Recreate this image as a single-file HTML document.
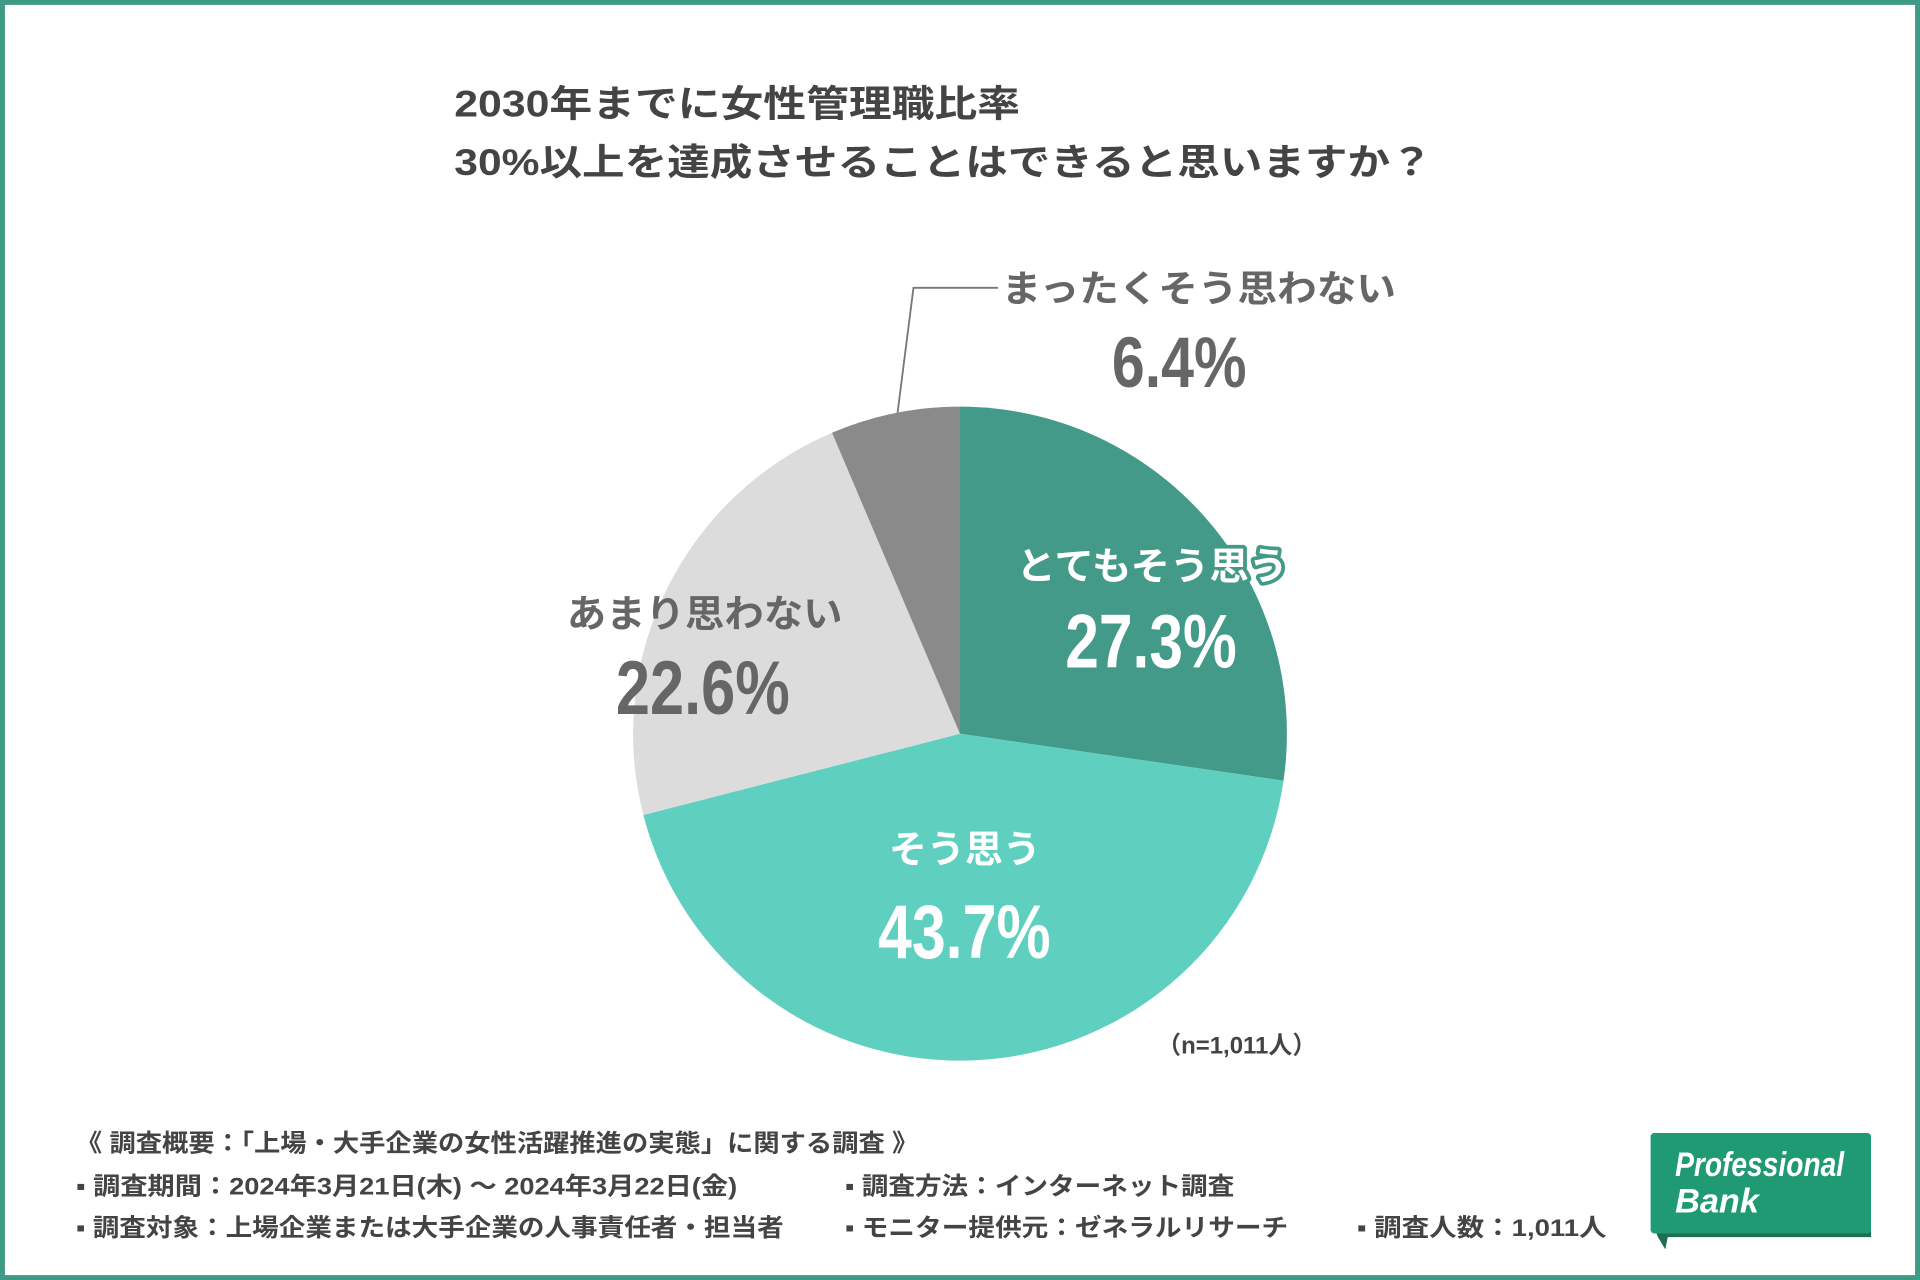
<!DOCTYPE html>
<html><head><meta charset="utf-8"><style>
html,body{margin:0;padding:0;background:#fff;}
svg{display:block;}
text{font-family:"Liberation Sans","Noto Sans CJK JP",sans-serif;}
</style></head><body>
<svg width="1920" height="1280" viewBox="0 0 1568 1045" preserveAspectRatio="none" xmlns="http://www.w3.org/2000/svg">
<rect x="2" y="2" width="1564" height="1041" fill="#fff" stroke="#3f9a86" stroke-width="4"/>
<text x="371" y="95" font-size="30" font-weight="bold" fill="#444" textLength="462" lengthAdjust="spacingAndGlyphs">2030年までに女性管理職比率</text>
<text x="371" y="143" font-size="30" font-weight="bold" fill="#444" textLength="799" lengthAdjust="spacingAndGlyphs">30%以上を達成させることはできると思いますか？</text>
<path d="M784,599 L784,332 A267,267 0 0 1 1048.2,637.4 Z" fill="#449a88"/>
<path d="M784,599 L1048.2,637.4 A267,267 0 0 1 525.4,665.4 Z" fill="#5fd0c0"/>
<path d="M784,599 L525.4,665.4 A267,267 0 0 1 679.5,353.3 Z" fill="#dcdcdc"/>
<path d="M784,599 L679.5,353.3 A267,267 0 0 1 784,332 Z" fill="#8a8a8a"/>
<polyline points="733,337 746,235 815,235" fill="none" stroke="#777" stroke-width="1.5"/>
<text x="818" y="246" font-size="30" font-weight="bold" fill="#666" textLength="322" lengthAdjust="spacingAndGlyphs">まったくそう思わない</text>
<text x="908" y="316" font-size="58" font-weight="bold" fill="#666" textLength="110" lengthAdjust="spacingAndGlyphs">6.4%</text>
<text x="830" y="473" font-size="31" font-weight="bold" fill="#fff" stroke="#449a88" stroke-width="6" paint-order="stroke" stroke-linejoin="round" textLength="222" lengthAdjust="spacingAndGlyphs">とてもそう思う</text>
<text x="870" y="545" font-size="62" font-weight="bold" fill="#fff" textLength="140" lengthAdjust="spacingAndGlyphs">27.3%</text>
<text x="463" y="512" font-size="31" font-weight="bold" fill="#666" textLength="225" lengthAdjust="spacingAndGlyphs">あまり思わない</text>
<text x="503" y="583" font-size="62" font-weight="bold" fill="#666" textLength="142" lengthAdjust="spacingAndGlyphs">22.6%</text>
<text x="726" y="704" font-size="31" font-weight="bold" fill="#fff" textLength="124" lengthAdjust="spacingAndGlyphs">そう思う</text>
<text x="717" y="782" font-size="62" font-weight="bold" fill="#fff" textLength="141" lengthAdjust="spacingAndGlyphs">43.7%</text>
<text x="945" y="860" font-size="20" font-weight="bold" fill="#444" textLength="130" lengthAdjust="spacingAndGlyphs">（n=1,011人）</text>
<g font-size="20" font-weight="bold" fill="#444">
<text x="62" y="940" textLength="688" lengthAdjust="spacingAndGlyphs">《 調査概要：「上場・大手企業の女性活躍推進の実態」に関する調査 》</text>
<text x="62" y="975" textLength="540" lengthAdjust="spacingAndGlyphs">▪ 調査期間：2024年3月21日(木) 〜 2024年3月22日(金)</text>
<text x="690" y="975" textLength="318" lengthAdjust="spacingAndGlyphs">▪ 調査方法：インターネット調査</text>
<text x="62" y="1009" textLength="578" lengthAdjust="spacingAndGlyphs">▪ 調査対象：上場企業または大手企業の人事責任者・担当者</text>
<text x="690" y="1009" textLength="362" lengthAdjust="spacingAndGlyphs">▪ モニター提供元：ゼネラルリサーチ</text>
<text x="1108" y="1009" textLength="204" lengthAdjust="spacingAndGlyphs">▪ 調査人数：1,011人</text>
</g>
<path d="M1352,1005 L1528,1005 L1528,1010 L1362,1010 L1360,1020 L1354,1010 Z" fill="#1d6e55"/>
<rect x="1348" y="925" width="180" height="82" rx="3" fill="#1f9a72"/>
<text x="1368" y="960" font-size="28" font-weight="bold" fill="#fff" font-style="italic" textLength="138" lengthAdjust="spacingAndGlyphs">Professional</text>
<text x="1368" y="990" font-size="28" font-weight="bold" fill="#fff" font-style="italic">Bank</text>
</svg>
</body></html>
